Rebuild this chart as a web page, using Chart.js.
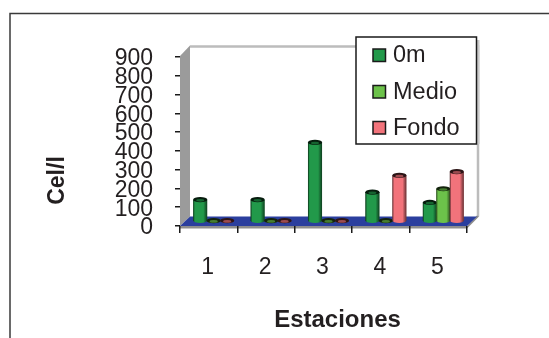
<!DOCTYPE html>
<html>
<head>
<meta charset="utf-8">
<style>
  html, body { margin: 0; padding: 0; background: #fff; }
  canvas { display: block; }
</style>
<script src="https://cdn.jsdelivr.net/npm/chart.js@4"></script>
</head>
<body>
<canvas id="chart" width="549" height="338"></canvas>
<script>
const categories = ['1', '2', '3', '4', '5'];
const surface = [115, 115, 420, 155, 100];
const middle = [3, 3, 3, 3, 173];
const bottom = [3, 3, 3, 244, 264];
const seriesNames = ['0m', 'Medio', 'Fondo'];
const seriesColors = ['#22994a', '#6cc24a', '#f2737b'];
const yTicks = [0, 100, 200, 300, 400, 500, 600, 700, 800, 900];
const xTitle = 'Estaciones';
const yTitle = 'Cel/l';

const ink = '#231f20';
const fontFamily = '"Liberation Sans", Arial, sans-serif';
const depthX = 10, depthY = 9.5;

function shade(hex, f) {
  const n = parseInt(hex.slice(1), 16);
  const c = [n >> 16, (n >> 8) & 255, n & 255].map(v => Math.round(v * f));
  return `rgb(${c[0]},${c[1]},${c[2]})`;
}

function poly(ctx, pts, fill) {
  ctx.beginPath();
  pts.forEach((p, i) => i ? ctx.lineTo(p[0], p[1]) : ctx.moveTo(p[0], p[1]));
  ctx.closePath();
  ctx.fillStyle = fill;
  ctx.fill();
}

// Outer frame (top and left only), walls and floor of the 3D box
const box3d = {
  id: 'box3d',
  beforeDraw(chart) {
    const { ctx, chartArea: a } = chart;
    ctx.save();
    ctx.strokeStyle = '#3a3a3a';
    ctx.lineWidth = 1.5;
    ctx.beginPath();
    ctx.moveTo(10, 338);
    ctx.lineTo(10, 13.5);
    ctx.lineTo(549, 13.5);
    ctx.stroke();

    // side wall
    poly(ctx, [[a.left, a.top - 1], [a.left + depthX, a.top - depthY - 2],
               [a.left + depthX, a.bottom - depthY], [a.left, a.bottom]], '#9b9b9b');
    // back wall edges
    ctx.strokeStyle = '#bcbcbc';
    ctx.lineWidth = 2.5;
    ctx.beginPath();
    ctx.moveTo(a.left + depthX, a.top - depthY - 1);
    ctx.lineTo(a.right + depthX + 1, a.top - depthY - 1);
    ctx.lineTo(a.right + depthX + 1, a.bottom - depthY);
    ctx.stroke();
    // floor and its front edge
    poly(ctx, [[a.left, a.bottom + 2.5], [a.right, a.bottom + 2.5],
               [a.right, a.bottom], [a.left, a.bottom]], '#8d8d8d');
    poly(ctx, [[a.right, a.bottom + 2.5], [a.right + depthX + 2, a.bottom - depthY],
               [a.right + depthX, a.bottom - depthY - 1], [a.right, a.bottom]], '#8d8d8d');
    poly(ctx, [[a.left, a.bottom], [a.left + depthX, a.bottom - depthY],
               [a.right + depthX, a.bottom - depthY], [a.right, a.bottom]], '#2b3f9e');
    ctx.restore();
  }
};

// Bars are drawn as cylinders standing mid-depth on the floor, first series first
const cylinders = {
  id: 'cylinders',
  beforeDatasetDraw() { return false; },
  afterDatasetsDraw(chart) {
    const { ctx } = chart;
    const dx = depthX / 2, dy = depthY / 2, ry = 2.6;
    ctx.save();
    ctx.translate(dx, -dy);
    chart.data.datasets.forEach((ds, di) => {
      const base = seriesColors[di];
      chart.getDatasetMeta(di).data.forEach(bar => {
        const w = bar.width + 0.6, l = bar.x - w / 2, r = bar.x + w / 2;
        // body comes from the bar element itself, then gets a rounded shading
        ctx.save();
        bar.draw(ctx);
        ctx.restore();
        const g = ctx.createLinearGradient(l, 0, r, 0);
        g.addColorStop(0, shade(base, 0.3));
        g.addColorStop(0.12, base);
        g.addColorStop(0.72, base);
        g.addColorStop(1, shade(base, 0.4));
        ctx.fillStyle = g;
        ctx.beginPath();
        ctx.moveTo(l, bar.y);
        ctx.lineTo(l, bar.base);
        ctx.ellipse(bar.x, bar.base, w / 2, ry, 0, Math.PI, 0, true);
        ctx.lineTo(r, bar.y);
        ctx.closePath();
        ctx.fill();
        // top cap
        ctx.beginPath();
        ctx.ellipse(bar.x, bar.y, w / 2, ry, 0, 0, Math.PI * 2);
        ctx.fillStyle = shade(base, 0.18);
        ctx.fill();
        ctx.beginPath();
        ctx.ellipse(bar.x, bar.y + 0.7, w / 2 - 3, ry - 1.3, 0, 0, Math.PI * 2);
        ctx.fillStyle = shade(base, 0.65);
        ctx.fill();
      });
    });
    ctx.restore();
  }
};

// Legend box overlapping the top right of the plot, plus the two axis titles
const annotations = {
  id: 'annotations',
  afterDraw(chart) {
    const { ctx } = chart;
    const rowY = [55, 91.5, 127.5];
    ctx.save();
    ctx.fillStyle = '#c9c9c9';
    ctx.fillRect(477, 40, 2.5, 104);
    ctx.fillStyle = '#fff';
    ctx.strokeStyle = '#1a1a1a';
    ctx.lineWidth = 1.5;
    ctx.fillRect(356, 37, 120.5, 107);
    ctx.strokeRect(356, 37, 120.5, 107);
    ctx.textBaseline = 'middle';
    ctx.textAlign = 'left';
    ctx.font = `23.5px ${fontFamily}`;
    chart.data.datasets.forEach((ds, i) => {
      ctx.fillStyle = ds.backgroundColor;
      ctx.fillRect(373, rowY[i] - 6, 12.5, 12.5);
      ctx.strokeRect(373, rowY[i] - 6, 12.5, 12.5);
      ctx.fillStyle = ink;
      ctx.fillText(ds.label, 393, rowY[i] + 1);
    });

    ctx.fillStyle = ink;
    ctx.textAlign = 'center';
    ctx.font = `bold 24px ${fontFamily}`;
    ctx.fillText(xTitle, 337.5, 320);
    ctx.font = `bold 23px ${fontFamily}`;
    ctx.translate(57.5, 180.5);
    ctx.rotate(-Math.PI / 2);
    ctx.fillText(yTitle, 0, 0);
    ctx.restore();
  }
};

new Chart(document.getElementById('chart'), {
  type: 'bar',
  data: {
    labels: categories,
    datasets: [surface, middle, bottom].map((values, i) => ({
      label: seriesNames[i],
      data: values,
      backgroundColor: seriesColors[i],
      borderWidth: 0,
      categoryPercentage: 0.705,
      barPercentage: 1
    }))
  },
  options: {
    responsive: false,
    animation: false,
    layout: { padding: { top: 57, right: 82, left: 0, bottom: 0 } },
    plugins: { legend: { display: false }, tooltip: { enabled: false } },
    scales: {
      x: {
        afterFit(scale) { scale.height = 112; },
        border: { display: false },
        grid: { drawOnChartArea: false, color: '#1a1a1a', lineWidth: 1.5, tickLength: 7, offset: true },
        ticks: { color: ink, font: { family: fontFamily, size: 23 }, padding: 21, maxRotation: 0, labelOffset: -1 }
      },
      y: {
        min: 0,
        max: 900,
        afterFit(scale) { scale.width = 180; },
        afterBuildTicks(scale) { scale.ticks = yTicks.map(value => ({ value })); },
        border: { display: false },
        grid: { drawOnChartArea: false, color: '#1a1a1a', lineWidth: 1.5, tickLength: 5 },
        ticks: { color: ink, font: { family: fontFamily, size: 23 }, padding: 22, autoSkip: false, labelOffset: 2 }
      }
    }
  },
  plugins: [box3d, cylinders, annotations]
});
</script>
</body>
</html>
